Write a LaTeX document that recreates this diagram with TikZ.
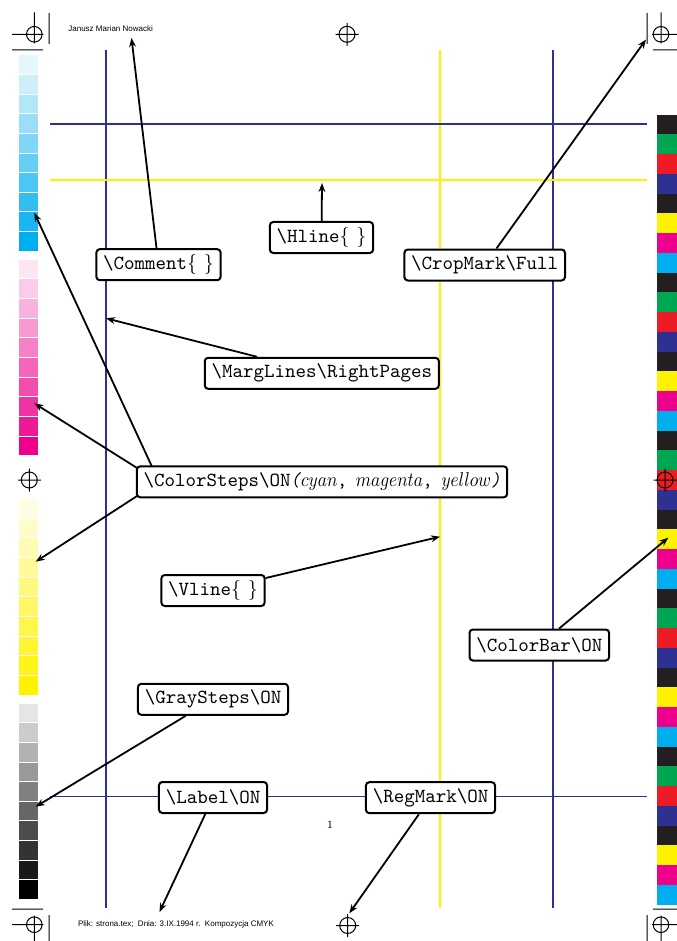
\documentclass[tikz,border=0pt]{standalone}
\usepackage{fontspec}
\newfontfamily\helvfont{Liberation Sans}
\usetikzlibrary{arrows.meta}
\definecolor{pcyan}{RGB}{0,174,239}
\definecolor{pmag}{RGB}{236,0,140}
\definecolor{pyel}{RGB}{255,242,0}
\definecolor{pblack}{RGB}{35,31,32}
\definecolor{pgreen}{RGB}{0,166,81}
\definecolor{pred}{RGB}{237,28,36}
\definecolor{pblue}{RGB}{46,49,146}
\begin{document}
\begin{tikzpicture}[x=0.5pt,y=-0.5pt,
  lbl/.style={draw, line width=1pt, rounded corners=1.7pt, fill=white, font=\ttfamily, inner xsep=3.4pt, inner ysep=0pt, minimum height=15.5pt},
  arr/.style={line width=0.9pt, -{Stealth[length=4.5pt,width=3.4pt]}},
  guide/.style={line width=0.65pt},
  cropl/.style={line width=0.5pt},
  smalltext/.style={font=\helvfont\fontsize{4}{5}\selectfont, inner sep=0pt, anchor=west},
  regmark/.pic={\draw[cropl] (0,0) circle[radius=8] (-11.5,0)--(11.5,0) (0,-11.5)--(0,11.5);}
]
\useasboundingbox (0,0) rectangle (676,941);

% colour steps (left)
\foreach \i in {0,...,9}{
  \pgfmathtruncatemacro\p{10*(\i+1)}
  \fill[pcyan!\p]  (19,{55.5+19.62*\i}) rectangle (38,{55.5+19.62*\i+18.6});
  \fill[pmag!\p]   (19,{259.7+19.66*\i}) rectangle (38,{259.7+19.66*\i+18.6});
  \fill[pyel!\p]   (19,{499+19.67*\i}) rectangle (38,{499+19.67*\i+18.6});
  \fill[black!\p]  (19,{703.7+19.63*\i}) rectangle (38,{703.7+19.63*\i+18.6});
}
% colour bar (right)
\foreach \k in {0,...,4}{
  \foreach \c [count=\j from 0] in {pblack,pgreen,pred,pblue,pblack,pyel,pmag,pcyan}{
    \fill[\c] (657,{114.7+19.75*(8*\k+\j)}) rectangle (680,{114.7+19.75*(8*\k+\j+1)});
  }
}

% margin lines
\draw[guide,pblue] (106,50) -- (106,908);
\draw[guide,pblue] (553,50) -- (553,908);
\draw[guide,pyel] (440,50) -- (440,908);
\draw[guide,pblue] (50,124) -- (647,124);
\draw[guide,pyel] (50,180) -- (647,180);
\draw[guide,pblue] (50,796.5) -- (647,796.5);

% crop marks
\draw[cropl] (34.3,34.3) circle[radius=7.8] (12,34.3)--(43.3,34.3) (34.3,12.3)--(34.3,43.3)
  (49,13)--(49,44) (12,50)--(43,50);
\draw[cropl] (661,34.3) circle[radius=7.8] (652,34.3)--(683,34.3) (661,12.3)--(661,43.3)
  (647,13)--(647,44) (653,50)--(684,50);
\draw[cropl] (34.3,924.7) circle[radius=7.8] (12,924.7)--(43.3,924.7) (34.3,915.7)--(34.3,946.7)
  (49,915)--(49,946) (12,909)--(43,909);
\draw[cropl] (661,924.7) circle[radius=7.8] (652,924.7)--(683,924.7) (661,915.7)--(661,946.7)
  (647,915)--(647,946) (653,909)--(684,909);

% registration marks
\pic at (347,34.3) {regmark};
\pic at (347.7,925.5) {regmark};
\pic at (29.3,480) {regmark};
\pic at (665,480) {regmark};

% texts
\node[smalltext] (author) at (68,29) {Janusz Marian Nowacki};
\node[smalltext] (footer) at (77.7,924.7) {Plik: strona.tex;\ \ Dnia: 3.IX.1994 r.\ \ Kompozycja CMYK};
\node[font=\fontsize{5.5}{6}\selectfont, inner sep=0pt] (pagenum) at (330,825) {1};

% arrow targets
\coordinate (tComment) at (131.5,38);
\coordinate (tHline) at (322,183);
\coordinate (tCrop) at (646,39.5);
\coordinate (tMarg) at (106,318.3);
\coordinate (tCyan) at (34.3,212.7);
\coordinate (tMag) at (34.3,403.3);
\coordinate (tYel) at (35.7,561.7);
\coordinate (tVline) at (440,536.7);
\coordinate (tBar) at (668.3,537.7);
\coordinate (tGray) at (35.7,806.7);
\coordinate (tLabel) at (159.5,912);
\coordinate (tReg) at (349.3,913.3);
\coordinate (csrc) at (159,481.8);

% ColorSteps arrows (start hidden under the box)
\draw[arr] (csrc) -- (tCyan);
\draw[arr] (csrc) -- (tMag);
\draw[arr] (csrc) -- (tYel);

% label boxes
\node[lbl] (comment) at (158.5,264.7) {\textbackslash Comment\textrm{\{ \}}};
\node[lbl] (hline) at (321.5,237.5) {\textbackslash Hline\textrm{\{ \}}};
\node[lbl] (crop) at (484.7,265) {\textbackslash CropMark\textbackslash Full};
\node[lbl] (marg) at (321.8,373.3) {\textbackslash MargLines\textbackslash RightPages};
\node[lbl] (csteps) at (322,481.8) {\textbackslash ColorSteps\textbackslash ON\scalebox{0.87}[1]{\textit{(}$cyan$, $magenta$, $yellow$\textit{)}}};
\node[lbl] (vline) at (213,590.5) {\textbackslash Vline\textrm{\{ \}}};
\node[lbl] (cbar) at (539.3,645) {\textbackslash ColorBar\textbackslash ON};
\node[lbl] (gsteps) at (213,699.3) {\textbackslash GraySteps\textbackslash ON};
\node[lbl] (label) at (213,797.5) {\textbackslash Label\textbackslash ON};
\node[lbl] (regm) at (430.5,797.7) {\textbackslash RegMark\textbackslash ON};

% arrows
\draw[arr] (comment) -- (tComment);
\draw[arr] (hline) -- (tHline);
\draw[arr] (crop) -- (tCrop);
\draw[arr] (marg) -- (tMarg);
\draw[arr] (vline) -- (tVline);
\draw[arr] (cbar) -- (tBar);
\draw[arr] (gsteps) -- (tGray);
\draw[arr] (label) -- (tLabel);
\draw[arr] (regm) -- (tReg);
\end{tikzpicture}
\end{document}
